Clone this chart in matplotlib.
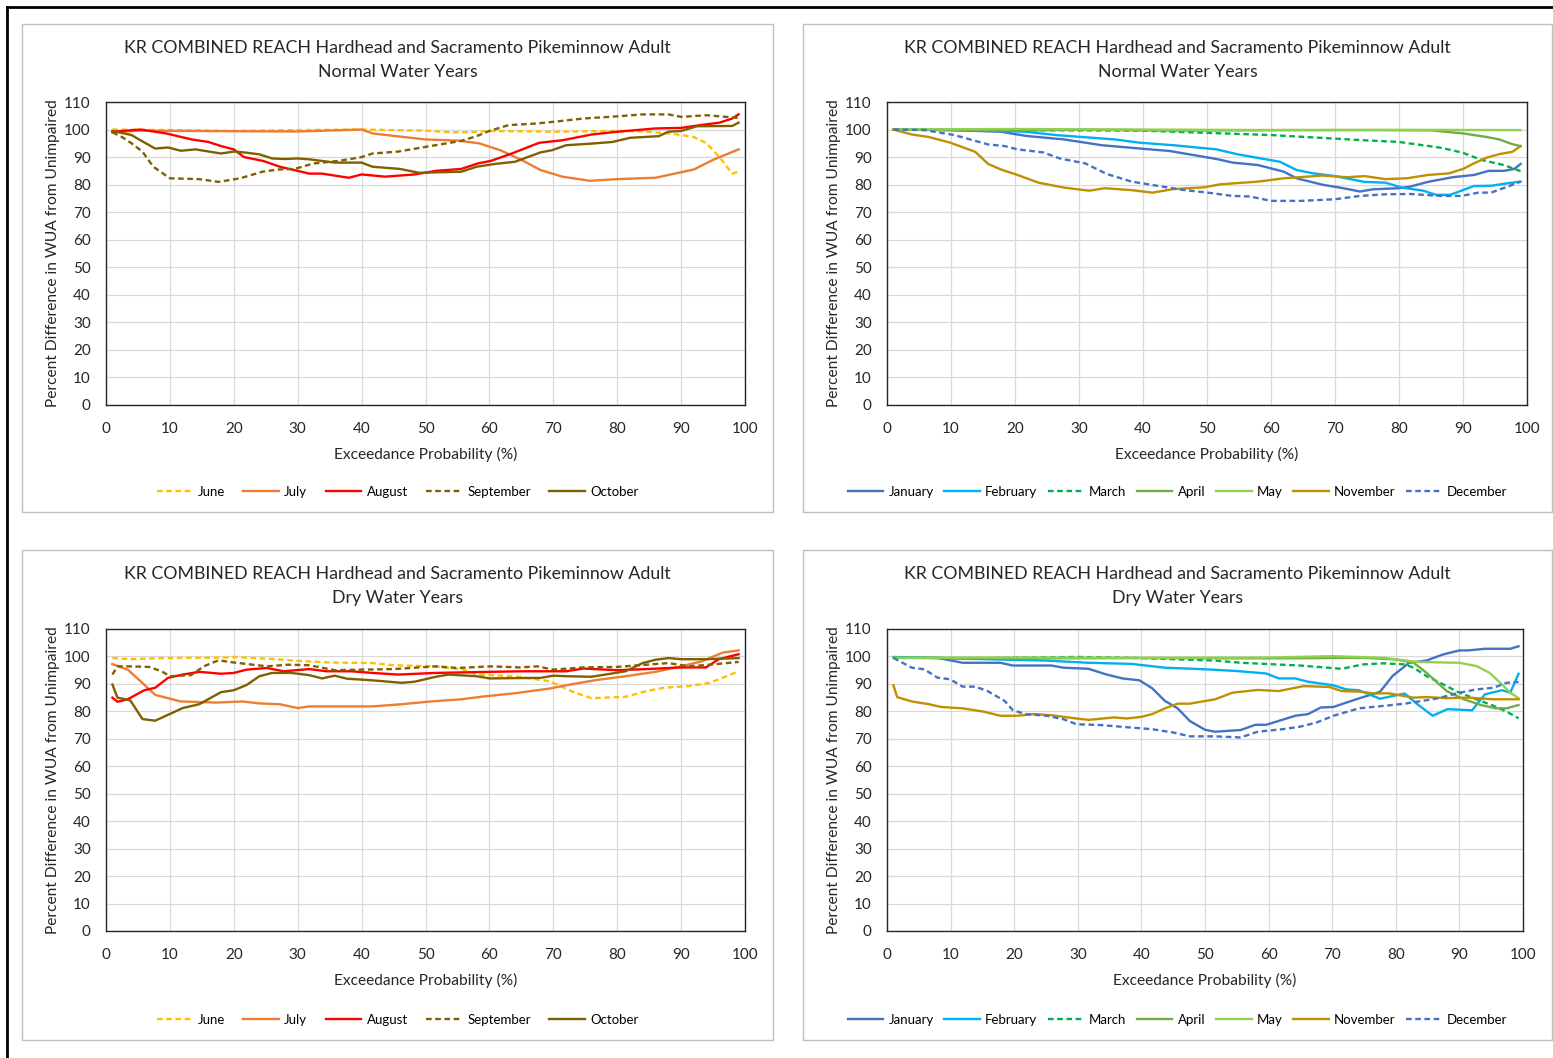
import matplotlib
matplotlib.use("Agg")
import matplotlib.pyplot as plt
from matplotlib.patches import Rectangle
from matplotlib.lines import Line2D

plt.rcParams['font.family'] = ['Lato', 'DejaVu Sans']

TITLE = "KR COMBINED REACH Hardhead and Sacramento Pikeminnow Adult"

# ---- data: (exceedance %, percent difference) ----
# Normal water years, Jun-Oct
n_june = [(1, 100), (10, 99.8), (20, 99.5), (30, 99.8), (40, 100), (50, 99.6), (54, 99), (57, 99),
          (60, 99.5), (70, 99.2), (80, 99.5), (84, 99.3), (88, 98.6), (90, 98), (92, 97.3),
          (94, 95), (96, 90), (98, 84), (99, 84.7)]
n_july = [(1, 99), (5, 99.6), (20, 99.4), (30, 99.3), (40, 100), (41.7, 98.6), (45, 97.7),
          (50, 96.4), (55, 96), (58.4, 95), (61.7, 92.5), (65, 89), (68, 85.3), (71.4, 82.9),
          (75.7, 81.4), (80, 82), (86, 82.5), (92, 85.5), (95, 89), (99, 92.8)]
n_august = [(1, 99.2), (5.4, 100), (9.4, 98.6), (13.4, 96.4), (16, 95.5), (18, 94), (20, 92.8),
            (21.6, 90), (24.6, 88.6), (27.2, 86.5), (30, 85), (31.8, 84), (33.8, 84), (38, 82.5),
            (40, 83.7), (43.7, 82.9), (48.3, 83.7), (51.6, 85), (55.6, 85.7), (58.2, 87.7),
            (60.2, 88.6), (63.5, 91.3), (67.8, 95.2), (71.4, 96.1), (76, 98.2), (80, 99.2),
            (86, 100.4), (90, 100.6), (93, 101.6), (96, 102.5), (98, 104), (99, 105.5)]
n_september = [(1, 99), (2.5, 97.3), (4, 95), (5.7, 92), (7.4, 86.5), (10, 82.3), (14.6, 82),
               (17.6, 81), (21, 82.3), (24.5, 84.7), (27, 85.5), (29.5, 85.7), (32.5, 87.7),
               (36.4, 88.6), (40, 90), (41.7, 91.3), (45.7, 92), (50, 93.7), (55.6, 95.9),
               (58, 97.6), (60, 99.5), (63, 101.6), (67.4, 102.2), (70, 102.8), (74.7, 104),
               (80, 104.8), (84, 105.5), (88, 105.5), (90, 104.6), (94, 105.2), (99, 104.2)]
n_october = [(1, 99.5), (4, 98), (5.4, 96.1), (7.7, 93.1), (9.7, 93.5), (11.7, 92.3), (14, 92.8),
             (18, 91.3), (20, 92), (21.6, 91.7), (24, 91), (26, 89.5), (28, 89.3), (30, 89.5),
             (31.8, 89.2), (35.8, 88), (40, 88), (41.7, 86.5), (46, 85.7), (49, 84.3),
             (55.6, 84.7), (58, 86.5), (60.8, 87.5), (64, 88.3), (68, 91.7), (69.8, 92.5),
             (72, 94.3), (76, 94.9), (79.3, 95.5), (82, 97), (86.5, 97.6), (88, 99.2), (90, 99.5),
             (92.5, 101.2), (98, 101.3), (99, 102.5)]

# Normal water years, Nov-May
n_january = [(1, 100), (10, 99.8), (17.8, 99.2), (21.7, 97.7), (27.7, 96.4), (33.6, 94.3),
             (39.6, 93.1), (44.2, 92.2), (48, 90.7), (51.5, 89.3), (54, 88), (58, 87.1),
             (62, 84.7), (64, 82.3), (68, 80), (71.3, 78.7), (73.9, 77.5), (75.9, 78.3),
             (80, 78.7), (81.8, 79.3), (84.5, 81), (88.4, 82.7), (91.7, 83.5), (94, 85),
             (96.4, 85), (98, 85.7), (99, 87.5)]
n_february = [(1, 100), (12, 99.8), (21.7, 99.2), (26.4, 98), (35.6, 96.4), (39.6, 95.2),
              (44.8, 94.3), (51.5, 92.8), (54.8, 91), (61.4, 88.3), (64, 85.3), (66.6, 84.1),
              (70, 83.1), (74.6, 81), (77.9, 80.7), (80.5, 78.9), (83.8, 77.8), (85.8, 76.3),
              (88, 76.3), (91.7, 79.5), (94.4, 79.6), (97, 80.5), (99, 81.1)]
n_march = [(1, 100), (20, 99.8), (40, 99.6), (50, 98.8), (60, 98), (70, 96.7), (74.6, 96.1),
           (80, 95.5), (86.5, 93.4), (89.8, 91.7), (93, 88.9), (96.4, 87.1), (99, 84.9)]
n_april = [(1, 100), (20, 99.6), (30, 100), (45, 99.6), (60, 99.8), (75, 99.8), (85, 99.7),
           (90, 98.6), (93.7, 97.3), (95.7, 96.4), (97.7, 94.7), (99, 94)]
n_may = [(1, 100), (20, 100.2), (40, 100), (60, 99.8), (80, 99.9), (99, 99.8)]
n_november = [(1, 100), (3.9, 98.2), (6.5, 97.3), (9.8, 95.3), (13.8, 91.9), (15.8, 87.5),
              (17.8, 85.5), (20.4, 83.5), (23.7, 80.7), (27.7, 78.9), (31.6, 77.8), (34, 78.7),
              (38.2, 78), (41.5, 77.1), (44.8, 78.4), (49.5, 79), (52, 80.1), (58, 81.1),
              (62, 82.3), (68, 83.3), (71.9, 82.7), (74.6, 83.1), (77.9, 82), (81.2, 82.3),
              (84.5, 83.5), (87.8, 84.1), (90, 85.7), (91.7, 87.7), (93.7, 89.8), (95.7, 91.1),
              (97.7, 91.9), (99, 94)]
n_december = [(1, 100), (5.9, 99.8), (10.5, 98), (15.8, 94.6), (18.4, 94), (20.4, 92.8),
              (24.4, 91.7), (27, 89.5), (31, 87.7), (34.3, 83.9), (38.2, 81.1), (42.2, 79.6),
              (46.2, 78.1), (50.1, 77.1), (54, 75.9), (56.7, 75.7), (60, 74.1), (64.7, 74.1),
              (70, 74.7), (73.9, 75.9), (77.9, 76.5), (81.8, 76.6), (86.5, 75.9), (89.8, 75.9),
              (92.4, 77.1), (94.4, 77.1), (97, 79.3), (99, 81.1)]

# Dry water years, Jun-Oct
d_june = [(1, 99.4), (3.8, 99), (8.7, 99.4), (18.6, 99.6), (20, 99.8), (25.2, 99.2), (30, 98.4),
          (35, 97.8), (41.7, 97.6), (45, 96.8), (51.6, 96.4), (56, 95.2), (58, 93.4), (64, 92.8),
          (69.4, 91), (73.4, 86.8), (76, 84.8), (81.3, 85.3), (84.6, 87.4), (87.3, 88.6),
          (91.2, 89.2), (94.5, 90.4), (96.5, 92.2), (99, 94.6)]
d_july = [(1, 97.2), (3.4, 95.2), (5.4, 91), (7.7, 86), (11.7, 83.6), (17.3, 83.2), (21.3, 83.6),
          (24, 82.9), (27.2, 82.6), (30, 81.2), (31.8, 81.8), (41.7, 81.8), (46.3, 82.6),
          (50.3, 83.5), (55.6, 84.4), (59, 85.4), (64, 86.6), (69.4, 88.3), (72.7, 89.8),
          (76.7, 91.4), (81.3, 92.8), (86, 94.4), (90, 96.4), (93.2, 98.2), (96.5, 101.4),
          (99, 102.2)]
d_august = [(1, 85), (1.8, 83.5), (3.4, 84.4), (6, 87.7), (7.7, 88.6), (9.7, 92.2), (12, 93.4),
            (14.6, 94.4), (18, 93.7), (20, 94), (22, 95.2), (25.2, 95.8), (27.8, 94.6),
            (31.8, 95.4), (34.5, 94.6), (38.4, 94.6), (41.7, 94), (45.7, 93.4), (51.6, 94),
            (58, 94.3), (64.8, 94.6), (72, 94.6), (74.7, 95.6), (80, 95), (84.6, 95.4),
            (90, 96), (93.9, 96), (95.9, 99), (99, 100.8)]
d_september = [(1, 93.4), (1.8, 96.4), (3.4, 96.4), (6.7, 96.2), (8.7, 94.6), (10, 92.8),
               (13.3, 93.2), (15.3, 96.4), (17.6, 98.6), (20, 97.8), (25.2, 96.4), (28.5, 97),
               (31.8, 96.8), (35.8, 95), (40, 95.2), (45, 95.4), (51.6, 96.4), (55, 95.8),
               (60.2, 96.4), (64.8, 96), (67.5, 96.4), (70, 95.2), (74.7, 96), (80, 96.2),
               (84.6, 97), (88, 97.6), (91.2, 96.4), (94.5, 97), (99, 98)]
d_october = [(1, 89.8), (1.8, 85), (3.8, 84), (5.7, 77.2), (7.7, 76.6), (12, 81.2), (14.6, 82.6),
             (18, 87), (20, 87.7), (22, 89.6), (24, 92.8), (26, 94), (29, 94), (31.8, 93.2),
             (33.8, 92), (35.8, 93), (37.7, 91.9), (41.7, 91.3), (46.3, 90.4), (48.3, 90.8),
             (51.6, 92.6), (53.6, 93.4), (58, 92.8), (60, 92), (68, 92.2), (70, 93), (72, 92.8),
             (76, 92.6), (81.3, 94.6), (84, 97.6), (86, 98.8), (88, 99.4), (90, 99), (93.9, 99),
             (99, 99.4)]

# Dry water years, Nov-May
d_january = [(1, 99.5), (7.9, 99.5), (11.9, 97.7), (17.8, 97.7), (19.8, 96.7), (25.8, 96.7),
             (27.8, 95.9), (31.7, 95.5), (34.4, 93.5), (37, 92), (39.7, 91.3), (41.7, 88.4),
             (43.7, 83.8), (45.7, 81.1), (47.6, 76.5), (50, 73.3), (51.6, 72.6), (55.6, 73.2),
             (57.9, 75.1), (59.6, 75.1), (64.2, 78.4), (66.2, 79), (68.2, 81.4), (70.2, 81.6),
             (73.5, 84.2), (77.5, 87.1), (79.5, 92.9), (82.1, 97.7), (84.8, 98.5), (87.4, 100.7),
             (90, 102.2), (91.4, 102.2), (94, 102.8), (98, 102.8), (99.3, 103.7)]
d_february = [(1, 99.8), (11.9, 99.2), (25, 98.5), (31.7, 97.7), (38.4, 97.3), (43.7, 95.9),
              (50.3, 95.3), (55, 94.7), (59.6, 93.8), (61.6, 92), (64.2, 92), (66.2, 90.8),
              (70.2, 89.5), (72.2, 88), (74.2, 87.7), (77.5, 84.6), (81.4, 86.5), (83.4, 82.6),
              (85.8, 78.4), (88.1, 80.8), (92, 80.4), (94, 86.2), (96.7, 87.7), (98, 86.8),
              (99.3, 93.7)]
d_march = [(1, 99.5), (15, 99.4), (30, 99.8), (38.4, 99.5), (51.6, 98.5), (55.6, 97.7),
           (64.9, 96.7), (71.5, 95.5), (74.8, 97.1), (78.1, 97.5), (81.4, 97.1), (82.8, 95.9),
           (84.8, 92.9), (88, 89.2), (90, 86.8), (92.7, 84.4), (95.4, 82), (97.4, 79.9),
           (99.3, 77.5)]
d_april = [(1, 99.5), (20, 99.3), (40, 99.4), (60, 99.3), (75, 99.5), (80, 98.9), (82.8, 97.7),
           (84.8, 94.1), (88, 87.4), (90.7, 84.4), (93.4, 82.3), (95.7, 81.1), (97.4, 81.1),
           (99.3, 82.3)]
d_may = [(1, 99.5), (20, 99.6), (40, 99.5), (60, 99.6), (70, 100.1), (78, 99.5), (83.4, 98),
         (90, 97.7), (92.7, 96.5), (94.7, 94.1), (96.7, 89.8), (98, 86.8), (99.3, 84.8)]
d_november = [(1, 89.5), (1.6, 85.2), (3.9, 83.6), (6.6, 82.6), (8.5, 81.6), (11.9, 81.1),
              (15.2, 79.9), (17.8, 78.4), (20.5, 78.4), (23.1, 79), (25.8, 78.6), (29.8, 77.4),
              (31.7, 76.9), (35.7, 77.8), (37.7, 77.4), (40, 78), (41.7, 79), (43.7, 81.1),
              (45.7, 82.8), (47.6, 82.8), (51.6, 84.4), (54.3, 86.8), (58.3, 87.8), (61.6, 87.4),
              (65.5, 89.2), (69.5, 88.9), (71.5, 87.4), (74.2, 87.2), (76.8, 86.5), (78.8, 86.6),
              (82.8, 85), (84.8, 85.2), (88.1, 84.8), (91.4, 85), (95.4, 84.4), (99.3, 84.4)]
d_december = [(1, 99.5), (3.9, 95.9), (5.9, 95.3), (7.9, 92.3), (9.9, 91.7), (11.9, 89),
              (13.9, 89), (15.8, 87.4), (18.5, 83.8), (19.8, 80.4), (21.8, 79), (25.1, 78.4),
              (27.8, 77.1), (29.8, 75.3), (33.7, 75), (38.4, 74.1), (41.7, 73.5), (45, 72.3),
              (47.6, 70.9), (51.6, 70.9), (55.6, 70.5), (58.3, 72.6), (62.2, 73.5), (64.9, 74.4),
              (67.5, 75.9), (70.2, 78.4), (74.2, 81.1), (78.1, 82), (81.4, 82.8), (84.1, 83.8),
              (86.7, 84.8), (90, 86.8), (92.7, 88), (95.4, 88.6), (97.4, 90.4), (99.3, 90.7)]

summer_names = ["June", "July", "August", "September", "October"]
winter_names = ["January", "February", "March", "April", "May", "November", "December"]

DASH = (0, (2.4, 1.5))
summer_styles = [("#FFC000", DASH), ("#ED7D31", "-"), ("#FF0000", "-"),
                 ("#806000", DASH), ("#7F6000", "-")]
winter_styles = [("#4472C4", "-"), ("#00B0F0", "-"), ("#00B050", DASH), ("#70AD47", "-"),
                 ("#92D050", "-"), ("#BF9000", "-"), ("#4472C4", DASH)]

W, H = 1553, 1058
fig = plt.figure(figsize=(W / 100, H / 100), dpi=100)


def px_rect(x0, y0, x1, y1):
    return [x0 / W, 1 - y1 / H, (x1 - x0) / W, (y1 - y0) / H]


def panel(frame, plot, series, names, styles, subtitle, colsp):
    fx0, fy0, fx1, fy1 = frame
    fig.patches.append(Rectangle((fx0 / W, 1 - fy1 / H), (fx1 - fx0) / W, (fy1 - fy0) / H,
                                 transform=fig.transFigure, fill=False,
                                 edgecolor="#BFBFBF", lw=1.0))
    cx = (fx0 + fx1) / 2 / W
    fig.text(cx, 1 - (fy0 + 24) / H, TITLE, ha="center", va="center", fontsize=12.75,
             color="#262626")
    fig.text(cx, 1 - (fy0 + 48) / H, subtitle, ha="center", va="center", fontsize=12.75,
             color="#262626")

    ax = fig.add_axes(px_rect(*plot))
    handles = []
    for pts, name, (c, ls) in zip(series, names, styles):
        xs, ys = zip(*pts)
        h, = ax.plot(xs, ys, color=c, ls=ls, lw=1.7, label=name)
        handles.append(h)
    ax.set_xlim(0, 100)
    ax.set_ylim(0, 110)
    ax.set_xticks(range(0, 101, 10))
    ax.set_yticks(range(0, 111, 10))
    ax.grid(True, color="#D9D9D9", lw=0.9)
    ax.set_axisbelow(True)
    ax.tick_params(axis="x", length=0, labelsize=11, colors="#262626", pad=12)
    ax.tick_params(axis="y", length=0, labelsize=11, colors="#262626", pad=11)
    for s in ax.spines.values():
        s.set_color("#262626")
        s.set_linewidth(1.0)
    ax.set_xlabel("Exceedance Probability (%)", fontsize=11.2, color="#262626", labelpad=8)
    ax.set_ylabel("Percent Difference in WUA from Unimpaired", fontsize=11.2,
                  color="#262626", labelpad=3)
    fig.legend(handles=handles, loc="center", bbox_to_anchor=(cx, 1 - (fy1 - 20) / H),
               ncol=len(handles), frameon=False, fontsize=9.5, handlelength=2.7,
               handletextpad=0.4, columnspacing=colsp)
    return ax


panel((22, 24, 773, 512), (106, 102, 745, 405),
      [n_june, n_july, n_august, n_september, n_october], summer_names, summer_styles,
      "Normal Water Years", 1.4)
panel((803, 24, 1552, 512), (887, 102, 1527, 405),
      [n_january, n_february, n_march, n_april, n_may, n_november, n_december],
      winter_names, winter_styles, "Normal Water Years", 0.8)
panel((22, 550, 773, 1040), (106, 629, 745, 931),
      [d_june, d_july, d_august, d_september, d_october], summer_names, summer_styles,
      "Dry Water Years", 1.4)
panel((803, 550, 1552, 1040), (887, 629, 1523, 931),
      [d_january, d_february, d_march, d_april, d_may, d_november, d_december],
      winter_names, winter_styles, "Dry Water Years", 0.8)

# outer page border (left and top edges visible)
fig.add_artist(Line2D([7 / W, 7 / W], [0, 1 - 7 / H], transform=fig.transFigure,
                      color="black", lw=2))
fig.add_artist(Line2D([7 / W, 1], [1 - 7 / H, 1 - 7 / H], transform=fig.transFigure,
                      color="black", lw=2))

fig.savefig("out.png", dpi=100)
